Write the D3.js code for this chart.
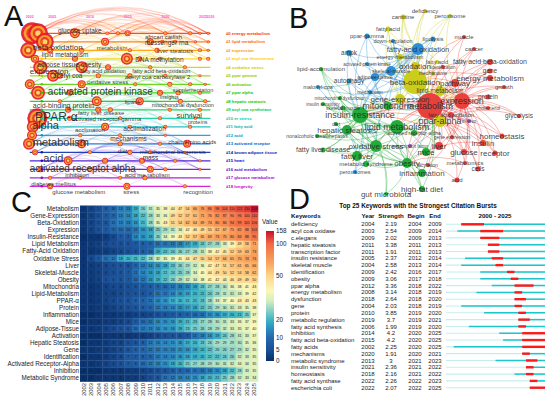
<!DOCTYPE html>
<html>
<head>
<meta charset="utf-8">
<script src="https://cdn.jsdelivr.net/npm/d3@7"></script>
<style>
body { margin: 0; background: #fff; }
svg { display: block; font-family: "Liberation Sans", Arial, sans-serif; }
</style>
</head>
<body>
<svg id="fig" width="550" height="400"></svg>
<script>
// ----------------------------
// Panel A : timeline view of keyword clusters
// ----------------------------
const clusterNames = ["#0 energy metabolism", "#1 lipid metabolism", "#2 expression", "#3 acyl coa thioesterase",
  "#4 oxidative stress", "#5 ppar gamma", "#6 activation", "#7 ppar alpha", "#8 hepatic steatosis",
  "#9 acyl coa synthetase", "#10 er stress", "#11 fatty acid", "#12 acid", "#13 activated receptor",
  "#14 brown adipose tissue", "#15 heart", "#16 acid metabolism", "#17 glucose metabolism", "#18 longevity"];
const clusterColors = ["#ff3300", "#ff6a00", "#ff9900", "#ffcc00", "#cccc00", "#99cc00", "#55cc00", "#22cc00",
  "#00cc00", "#00cc44", "#00cc99", "#00b4b4", "#0099cc", "#0066cc", "#0022aa", "#3300cc", "#6600cc", "#9900cc", "#cc00cc"];
const timelineTicks = [2002, 2005, 2010, 2015, 2020, 2025, 2026];

// [cluster, year, radius]
const timelineNodes = [
  [0,2002.3,11],[0,2003.1,10],[0,2008.0,5],[0,2012.3,1.8],[0,2013.7,2],[0,2015.0,3],[0,2020.0,2],[0,2023.3,2],[0,2024.6,1.5],[0,2025.7,1.5],
  [1,2004.0,9],[1,2012.0,4],[1,2018.0,3.5],[1,2019.6,2],[1,2021.3,2],[1,2024.0,1.5],[1,2025.7,1.5],
  [2,2001.8,8],[2,2004.7,3],[2,2008.9,2.5],[2,2015.3,2],[2,2018.9,2.5],[2,2024.6,2],[2,2025.7,1.5],
  [3,2002.7,4],[3,2008.0,3],[3,2014.9,6],[3,2016.6,2.5],[3,2019.3,2],[3,2024.6,2],[3,2025.7,2],
  [4,2003.4,7],[4,2008.9,6],[4,2012.4,3],[4,2018.0,2],[4,2022.6,2],
  [5,2005.1,6],[5,2006.0,3],[5,2011.1,2.5],[5,2015.3,2.5],[5,2020.0,2],[5,2024.6,1.5],
  [6,2002.0,5],[6,2008.9,4],[6,2016.0,2],[6,2020.6,2.5],[6,2023.3,2],[6,2025.3,1.5],
  [7,2003.1,7],[7,2007.3,3],[7,2019.3,3],[7,2021.7,2.5],[7,2024.6,2],
  [8,2006.0,2],[8,2010.9,5],[8,2016.6,4],[8,2022.0,2.5],[8,2025.3,2],
  [9,2007.1,3],[9,2011.1,3],[9,2012.7,2.5],[9,2020.6,2],[9,2024.6,2],
  [10,2003.0,10],[10,2007.3,2.5],[10,2014.0,2],[10,2019.3,2],[10,2024.0,1.5],
  [11,2002.4,6],[11,2012.0,4],[11,2015.3,2],[11,2020.0,2],[11,2023.3,2],
  [12,2002.3,5],[12,2008.7,2],[12,2014.0,2],[12,2020.0,1.5],
  [13,2001.9,6],[13,2008.9,4.5],[13,2014.0,2.5],[13,2019.3,2],[13,2022.9,4],
  [14,2002.7,3],[14,2010.0,2],[14,2015.3,2.5],[14,2018.0,2],[14,2022.6,1.5],
  [15,2007.1,4.5],[15,2012.0,3],[15,2016.9,3],[15,2021.3,2],[15,2024.6,1.5],
  [16,2003.4,3],[16,2010.0,2.5],[16,2013.3,2],[16,2018.0,3.5],[16,2020.0,2],[16,2024.6,1.5],
  [17,2004.7,2],[17,2008.7,2],[17,2014.0,2],[17,2017.3,2.5],
  [18,2004.7,3],[18,2014.9,3.5],[18,2022.6,2]
];

// [text, year, lane, font size]
const timelineLabels = [
  ["glucose uptake",2005.75,-0.27,6.5],["african catfish",2017.3,0.43,6],["beta oxidation",2002.4,1.6,8],
  ["messenger rna",2017.3,1.14,6.5],["metabolism",2010.9,1.73,6],["liver steatosis",2018.9,2.08,6],
  ["lipid metabolism",2003.6,2.55,6.5],["DNA methylation",2016.0,3.14,6.5],["adipose tissue obesity",2003.0,3.73,6.5],
  ["expression",2002.0,4.44,8],["fatty acid oxidation",2008.7,4.44,5.5],["fatty acid beta-oxidation",2015.6,4.44,5.5],
  ["acetyl coa",2005.1,5.02,6.5],["acetyl coa carboxylase 2",2014.6,5.14,6],["oxidative stress",2009.6,5.73,6],
  ["activated protein kinase",2004.4,6.9,10],["supplementation",2021.0,6.67,5.5],["insights",2019.3,7.5,5.5],
  ["acid-binding protein",2002.4,8.55,7],["lipase",2014.6,8.08,6],["mitochondrial dysfunction",2018.2,8.43,5.5],
  ["fatty liver disease",2008.4,9.38,6],["PPAR-α",2002.7,9.85,12],["survival",2021.5,9.6,7.5],
  ["activated receptor gamma",2007.6,10.1,6],["proteins",2023.0,10.44,5.5],["alpha",2002.3,10.79,11],
  ["acclimation",2008.0,11.37,6],["acclimatization",2014.4,11.26,6.5],["metabolism",2002.4,12.79,11],
  ["mechanisms",2012.7,12.44,6.5],["chain amino acids",2020.4,12.79,6],["diet",2013.7,13.85,6],
  ["mitochondrial biogenesis",2016.6,13.96,6],["mass",2017.0,14.67,6.5],["acid",2003.8,14.67,11],
  ["activated receptot alpha",2002.0,15.85,10],["inhibition",2006.7,16.67,6],["acid me tabolism",2014.6,16.67,6],
  ["diabetes mellitus",2002.2,17.73,6],["glucose metabolism",2005.0,18.67,6],["stress",2014.4,18.67,6],
  ["recognition",2022.4,18.67,6]
];

// ----------------------------
// Panel B : co-occurrence network
// [label, cluster, x, y, radius, font size, linked hubs]
// ----------------------------
const networkColors = { r: "#e8413c", g: "#22aa3a", b: "#2b8fd6", y: "#cccc1a", p: "#9a5bb5" };
const networkNodes = [
  ["deficiency","y",140,3,2,6,"BFM"],["carnitine","y",118,9,2.5,6,"BFME"],["peroxisome","y",165,8,2,6,"BFEM"],
  ["fatty acid","y",103,21,2.5,6,"BFMG"],["ppar-gamma","b",82,28,2.5,6,"FIBC"],["muscle","r",179,29,2,6,"EMB"],
  ["down-regulation","b",108,33,2,5.5,"FBM"],["lipolysis","b",148,31,2.5,6,"FBMI"],["fatty-acid oxidation","b",133,41,6,7.5,"BMICGS"],
  ["cancer","r",189,41,2,6,"EMP"],["ampk","b",64,45,3,6.5,"FICB"],["energy-metabolism","y",115,49,3,5.5,"BFMG"],
  ["fatty acid","y",152,54,2,5.5,"BMF"],["fatty acid beta-oxidation","r",205,54,3,7,"EMBP"],["activated protein kinase","b",82,56,2,4.5,"FB"],
  ["oxidation","y",130,58,4,8,"BMFE"],["identification","r",158,59,2,4.5,"EMB"],["gene","r",205,63,2.5,6.5,"EMP"],
  ["lipid-accumulation","g",36,61,2,6,"ISCL"],["skeletal-muscle","b",106,63,5,5.5,"FBIM"],["mechanisms","y",148,65,2,5,"BME"],
  ["adipose-tissue","b",90,69,4,5.5,"FIBC"],["energy metabolism","r",205,70,3,8,"EMPB"],["beta-oxidation","y",130,74,12,8,"MEGLIPC"],
  ["pathway","r",170,75,4,8,"EMBP"],["autophagy","b",64,73,2.5,6.5,"FICM"],["malonyl-coa","b",33,79,2,5.5,"FBI"],
  ["growth","r",219,79,2,6,"EMP"],["mechanism","b",85,84,2,5,"BGF"],["lipid-metabolism","y",155,83,5,6.5,"MBEP"],
  ["protein","r",203,89,2.5,6.5,"EMP"],["mitochondrial dysfunction","g",55,90,2,4.5,"ICS"],["gene-expression","y",115,91,5,8,"MBCI"],
  ["expression","r",177,93,8,9,"MPLBO"],["insulin sensitivity","g",38,96,2,4.5,"ICL"],["mitochondria","g",103,98,4,9,"MISL"],
  ["metabolism","r",145,98,13,9,"ILSOPHC"],["cholesterol","r",203,100,2,5,"EMP"],["skeletal muscle","g",58,100,2.5,5,"ICL"],
  ["insulin-resistance","g",75,107,8,9,"LSOHC"],["fatty acid oxidation","r",166,107,3,5.5,"EMP"],["glycolysis","r",234,108,2,6.5,"EMP"],
  ["ppar-alpha","y",155,113,6,9,"MELB"],["in-vivo","p",184,113,2,5,"EMP"],["diet","g",51,116,2,5,"IHO"],
  ["lipid metabolism","g",112,119,7,9,"MSOHP"],["hepatic steatosis","g",62,122,5,8,"ISOL"],["nonalcoholic steatohepatitis","g",32,128,2,5,"IHL"],
  ["activated receptor-alpha","g",129,125,3,5,"PLM"],["gene expression","r",167,129,2,5,"EMP"],["homeostasis","r",217,128,2.5,8,"EMI"],
  ["insulin","r",198,135,3,8,"EMIO"],["oxidative stress","g",91,138,6,8,"MOH"],["transcription factor","p",125,138,2,4.5,"PM"],
  ["liver","r",154,138,4,8,"EMPL"],["fatty liver disease","g",38,142,2.5,7,"IHSL"],["glucose","r",179,144,3,8,"EMI"],
  ["receptor","r",210,145,2.5,8,"EMP"],["fatty liver","g",72,148,5,8,"ISOH"],["mice","g",141,144,4,8,"MLO"],
  ["obesity","g",122,155,5,8,"MIL"],["metabolic syndrome","g",81,156,3,6,"IOSL"],["acylation","r",143,157,2,5,"ME"],
  ["metabolomics","r",180,155,2,6,"EMO"],["inflammation","g",137,165,4,8,"OSMI"],["peroxisomes","b",70,164,2,5.5,"ISH"],
  ["cells","r",193,161,2.5,6.5,"EMP"],["acid","r",172,172,2.5,6,"EMO"],["high-fat diet","g",137,181,3,8,"OISM"],
  ["gut microbiota","g",101,186,2,8,"OSI"]
];
const hubKeys = { M: "metabolism", B: "beta-oxidation", E: "expression", I: "insulin-resistance", L: "lipid metabolism",
  F: "fatty-acid oxidation", P: "ppar-alpha", O: "obesity", G: "gene-expression", C: "mitochondria",
  S: "oxidative stress", H: "hepatic steatosis" };

// ----------------------------
// Panel C : keyword frequency heatmap
// ----------------------------
const heatYears = d3.range(2002, 2026);
const heatKeywords = ["Metabolism", "Gene-Expression", "Beta-Oxidation", "Expression", "Insulin-Resistance",
  "Lipid Metabolism", "Fatty-Acid Oxidation", "Oxidative Stress", "Liver", "Skeletal-Muscle", "Obesity",
  "Mitochondria", "Lipid-Metabolism", "PPAR-α", "Protein", "Inflammation", "Mice", "Adipose-Tissue",
  "Activation", "Hepatic Steatosis", "Gene", "Identification", "Activated Receptor-Alpha", "Inhibition",
  "Metabolic Syndrome"];
const heatValues = [
  [1,3,5,8,10,13,13,19,26,31,35,38,44,47,54,66,76,86,98,104,110,122,130,158],
  [1,3,5,7,9,13,14,18,22,28,33,36,49,52,57,61,71,76,82,87,90,96,100,110],
  [1,3,5,6,11,13,13,16,21,28,35,43,51,54,62,64,69,74,80,84,94,99,101,106],
  [1,3,5,7,9,10,10,12,16,18,25,29,31,34,42,46,49,55,62,67,75,82,88,101],
  [0,1,1,2,4,7,7,14,16,18,26,34,39,43,52,57,65,69,73,75,80,84,88,95],
  [1,2,3,4,5,5,6,7,8,9,11,12,12,13,17,19,24,27,28,33,39,49,58,71],
  [1,1,2,2,3,4,5,6,8,10,19,22,24,26,27,28,31,38,42,45,52,59,63,73],
  [1,4,7,11,12,18,20,21,22,28,32,35,39,41,44,47,50,54,57,64,65,70,74,74],
  [1,2,3,4,5,6,6,9,12,14,16,18,23,26,29,32,36,42,47,51,57,61,65,66],
  [1,2,3,4,5,6,7,11,14,16,18,22,24,25,28,34,40,44,49,50,52,54,58,62],
  [1,2,3,5,6,6,7,10,12,16,19,22,26,29,32,34,38,41,42,44,46,49,49,50],
  [1,1,2,3,4,4,5,6,7,8,9,10,12,13,15,18,23,27,28,30,36,38,41,43],
  [1,1,2,3,3,4,5,6,6,8,11,12,14,16,18,20,21,24,28,31,31,33,39,42],
  [1,1,2,3,4,5,6,8,9,11,14,16,19,20,21,21,23,28,33,37,40,43,43,43],
  [1,1,2,2,3,4,5,6,8,9,12,13,14,15,17,18,22,25,29,30,31,33,35,38],
  [0,0,1,1,1,2,2,3,3,4,5,6,7,8,9,10,11,15,16,19,20,21,25,37],
  [0,1,1,2,2,3,4,7,10,11,14,15,16,19,21,23,27,28,30,31,33,36,37,39],
  [1,1,2,3,4,5,6,10,12,13,14,16,16,19,23,25,26,28,29,32,33,35,37,40],
  [0,0,0,1,1,1,1,2,2,3,4,5,6,6,7,11,13,16,19,24,28,31,33,37],
  [0,1,1,2,3,3,5,6,8,12,13,14,15,16,19,20,23,26,29,29,29,30,35,36],
  [1,1,2,2,3,4,6,8,9,11,12,13,13,15,16,18,20,22,26,26,27,29,32,35],
  [0,1,1,2,3,4,7,7,8,9,12,13,14,16,18,19,20,22,22,24,26,32,33,35],
  [1,1,2,3,4,5,7,8,10,12,13,15,18,20,25,27,28,29,30,31,32,34,34,35],
  [0,0,0,1,1,1,2,2,3,4,5,6,8,9,10,11,11,13,15,18,22,28,33,35],
  [0,0,1,1,1,1,2,2,3,5,6,11,12,13,14,15,18,20,21,25,28,32,33,34]
];
const colorTicks = [0, 5, 10, 20, 50, 100, 158];
const colorStopValues = [0, 5, 10, 15, 20, 27, 33, 40, 50, 70, 100, 158];
const colorStopColors = ["#08306b", "#1a4f96", "#2468ad", "#2a8cbe", "#3db4c4", "#8dd3c7", "#d5eebb",
  "#fbf7b8", "#fdd58a", "#f9a65e", "#f26b43", "#c8102e"];

// ----------------------------
// Panel D : citation bursts
// ----------------------------
const burstKeywords = ["deficiency", "acyl coa oxidase", "c.elegans", "hepatic steatosis", "transcription factor",
  "insulin resistance", "skeletal muscle", "identification", "obesity", "ppar alpha", "energy metabolism",
  "dysfunction", "gene", "protein", "metabolic regulation", "fatty acid synthesis", "inhibition",
  "fatty acid beta-oxidation", "fatty acids", "mechanisms", "metabolic syndrome", "insulin sensitivity",
  "homeostasis", "fatty acid synthase", "escherichia coli"];
const burstYear = [2004, 2003, 2009, 2011, 2011, 2005, 2004, 2009, 2009, 2012, 2008, 2018, 2004, 2010, 2019,
  2006, 2014, 2015, 2002, 2020, 2013, 2021, 2018, 2022, 2022];
const burstStrength = ["2.19", "2.54", "2.02", "3.38", "1.91", "2.37", "2.58", "2.42", "3.06", "3.36", "3.14",
  "2.64", "2.03", "3.85", "3.7", "1.99", "4.2", "4.2", "2.25", "1.91", "3", "2.36", "2.16", "2.26", "2.07"];
const burstBegin = [2004, 2009, 2009, 2011, 2011, 2012, 2013, 2016, 2017, 2018, 2018, 2018, 2018, 2019, 2019,
  2019, 2020, 2020, 2020, 2020, 2021, 2021, 2021, 2022, 2022];
const burstEnd = [2009, 2014, 2013, 2013, 2013, 2014, 2014, 2017, 2018, 2022, 2019, 2020, 2019, 2020, 2021,
  2020, 2025, 2025, 2025, 2021, 2023, 2022, 2022, 2023, 2025];

const svg = d3.select("#fig");
svg.append("rect").attr("width", 550).attr("height", 400).attr("fill", "#fff");

// ============ Panel A ============
const xA = d3.scaleLinear().domain([2000, 2025]).range([14.7, 202.95]);
const yA = d3.scaleLinear().domain([0, 18]).range([33.3, 186.3]);
const gA = svg.append("g");

// faint arcs inside each cluster
clusterNames.forEach((name, k) => {
  const ns = timelineNodes.filter(n => n[0] === k).sort((a, b) => a[1] - b[1]);
  for (let i = 0; i < ns.length; i++) {
    for (let j = i + 1; j < ns.length; j++) {
      const x1 = xA(ns[i][1]), x2 = xA(ns[j][1]), y = yA(k);
      gA.append("path")
        .attr("d", `M${x1},${y} Q${(x1 + x2) / 2},${y - (x2 - x1) * 0.3} ${x2},${y}`)
        .attr("fill", "none")
        .attr("stroke", clusterColors[k])
        .attr("stroke-opacity", 0.24)
        .attr("stroke-width", 0.6);
    }
  }
});

gA.selectAll("line.cl").data(clusterNames).enter().append("line")
  .attr("x1", xA(2002)).attr("x2", xA(2026))
  .attr("y1", (d, k) => yA(k)).attr("y2", (d, k) => yA(k))
  .attr("stroke", (d, k) => clusterColors[k])
  .attr("stroke-width", 1.2)
  .attr("stroke-opacity", 0.85);

gA.selectAll("text.tick").data(timelineTicks).enter().append("text")
  .attr("x", d => xA(d)).attr("y", 17.5)
  .attr("text-anchor", "middle")
  .attr("font-size", 3.6)
  .attr("font-weight", "bold")
  .attr("fill", "#ff55cc")
  .text(d => d);

// nodes with citation rings
const ringFrac = [1, 0.76, 0.52, 0.28];
const ringCol = ["#e4192b", "#f7a92c", "#e83a2a", "#ffdf6e"];
timelineNodes.slice().sort((a, b) => b[2] - a[2]).forEach(n => {
  const cx = xA(n[1]), cy = yA(n[0]);
  ringFrac.forEach((f, i) => {
    if (n[2] < 2.6 && i > 1) return;
    gA.append("circle").attr("cx", cx).attr("cy", cy).attr("r", n[2] * f)
      .attr("fill", ringCol[i]).attr("fill-opacity", 0.92);
  });
});
gA.selectAll("circle.dot").data(clusterNames).enter().append("circle")
  .attr("cx", xA(2003.6)).attr("cy", (d, k) => yA(k)).attr("r", 1.3)
  .attr("fill", (d, k) => clusterColors[k]);

gA.selectAll("text.lab").data(timelineLabels).enter().append("text")
  .attr("x", d => xA(d[1])).attr("y", d => yA(d[2]))
  .attr("dy", "0.35em")
  .attr("font-size", d => d[3])
  .attr("fill", "#222")
  .attr("fill-opacity", 0.9)
  .text(d => d[0]);

gA.selectAll("text.leg").data(clusterNames).enter().append("text")
  .attr("x", 226).attr("y", (d, k) => yA(k))
  .attr("dy", "0.35em")
  .attr("font-size", 4.2)
  .attr("font-weight", "bold")
  .attr("fill", (d, k) => clusterColors[k])
  .text(d => d);

// ============ Panel B ============
const xB = d3.scaleLinear().domain([0, 250]).range([285, 535]);
const yB = d3.scaleLinear().domain([0, 190]).range([8, 198]);
const gB = svg.append("g");
const byLabel = {};
networkNodes.forEach(n => { if (!byLabel[n[0]]) byLabel[n[0]] = n; });

networkNodes.forEach(n => {
  n[6].split("").forEach(h => {
    const t = byLabel[hubKeys[h]];
    if (!t || t === n) return;
    const x1 = xB(n[2]), y1 = yB(n[3]), x2 = xB(t[2]), y2 = yB(t[3]);
    const mx = (x1 + x2) / 2 - (y2 - y1) * 0.2, my = (y1 + y2) / 2 + (x2 - x1) * 0.2;
    gB.append("path")
      .attr("d", `M${x1},${y1} Q${mx},${my} ${x2},${y2}`)
      .attr("fill", "none")
      .attr("stroke", networkColors[n[1]])
      .attr("stroke-opacity", 0.45)
      .attr("stroke-width", 0.8);
  });
});

gB.selectAll("circle").data(networkNodes).enter().append("circle")
  .attr("cx", d => xB(d[2])).attr("cy", d => yB(d[3]))
  .attr("r", d => d[4])
  .attr("fill", d => networkColors[d[1]]);

gB.selectAll("text").data(networkNodes).enter().append("text")
  .attr("x", d => xB(d[2])).attr("y", d => yB(d[3]))
  .attr("dy", "0.35em")
  .attr("text-anchor", "middle")
  .attr("font-size", d => d[5])
  .attr("fill", "#222")
  .attr("fill-opacity", 0.85)
  .text(d => d[0]);

// ============ Panel C ============
const xC = d3.scaleBand().domain(heatYears).range([80, 258]);
const yC = d3.scaleBand().domain(heatKeywords).range([205.5, 381.5]);
const colorC = d3.scaleLinear().domain(colorStopValues).range(colorStopColors).clamp(true);
const barPos = d3.scaleLinear().domain(colorTicks).range([361, 350, 338, 320, 276, 244, 231]);
const gC = svg.append("g");

heatKeywords.forEach((kw, r) => {
  heatYears.forEach((yr, c) => {
    const v = heatValues[r][c];
    gC.append("rect")
      .attr("x", xC(yr)).attr("y", yC(kw))
      .attr("width", xC.bandwidth() + 0.3).attr("height", yC.bandwidth() + 0.3)
      .attr("fill", colorC(v));
    gC.append("text")
      .attr("x", xC(yr) + xC.bandwidth() / 2).attr("y", yC(kw) + yC.bandwidth() / 2)
      .attr("dy", "0.35em").attr("text-anchor", "middle")
      .attr("font-size", 3.6).attr("fill", "#1a1a1a")
      .text(v);
  });
});

gC.selectAll("text.row").data(heatKeywords).enter().append("text")
  .attr("x", 79).attr("y", d => yC(d) + yC.bandwidth() / 2)
  .attr("dy", "0.35em").attr("text-anchor", "end")
  .attr("font-size", 6.3).attr("fill", "#222")
  .text(d => d);

gC.selectAll("text.yr").data(heatYears).enter().append("text")
  .attr("transform", d => `translate(${xC(d) + xC.bandwidth() / 2 + 2},383) rotate(-90)`)
  .attr("text-anchor", "end")
  .attr("font-size", 5.8).attr("fill", "#333")
  .text(d => d);

const grad = svg.append("defs").append("linearGradient")
  .attr("id", "cbar").attr("x1", 0).attr("x2", 0).attr("y1", 1).attr("y2", 0);
colorStopValues.forEach(v => {
  grad.append("stop")
    .attr("offset", (361 - barPos(Math.min(v, 158))) / 130)
    .attr("stop-color", colorC(v));
});
gC.append("rect").attr("x", 266).attr("y", 231).attr("width", 8).attr("height", 130)
  .attr("fill", "url(#cbar)");
gC.append("text").attr("x", 262).attr("y", 224).attr("font-size", 6.3).attr("fill", "#222").text("Value");
gC.selectAll("text.ct").data(colorTicks).enter().append("text")
  .attr("x", 276).attr("y", d => barPos(d)).attr("dy", "0.35em")
  .attr("font-size", 6.3).attr("fill", "#222")
  .text(d => d);

// ============ Panel D ============
const yD = d3.scalePoint().domain(burstKeywords).range([224.3, 387.7]);
const xD = d3.scaleLinear().domain([2000, 2026]).range([446, 545]);
const gD = svg.append("g");

gD.append("text").attr("x", 418).attr("y", 207.5).attr("text-anchor", "middle")
  .attr("font-size", 6.4).attr("font-weight", "bold").attr("fill", "#111")
  .text("Top 25 Keywords with the Strongest Citation Bursts");
const headers = [["Keywords", 291, "start"], ["Year", 368, "middle"], ["Strength", 391, "middle"],
  ["Begin", 416, "middle"], ["End", 435, "middle"], ["2000 - 2025", 495, "middle"]];
gD.selectAll("text.hd").data(headers).enter().append("text")
  .attr("x", d => d[1]).attr("y", 217.8).attr("text-anchor", d => d[2])
  .attr("font-size", 6.2).attr("font-weight", "bold").attr("fill", "#111")
  .text(d => d[0]);

burstKeywords.forEach((kw, i) => {
  const y = yD(kw);
  const cells = [[kw, 291, "start"], [burstYear[i], 368, "middle"], [burstStrength[i], 391, "middle"],
    [burstBegin[i], 415, "middle"], [burstEnd[i], 435, "middle"]];
  cells.forEach(c => {
    gD.append("text").attr("x", c[1]).attr("y", y).attr("dy", "0.35em")
      .attr("text-anchor", c[2]).attr("font-size", 6).attr("fill", "#222").text(c[0]);
  });
  gD.append("line").attr("x1", xD(2000)).attr("x2", xD(2026)).attr("y1", y).attr("y2", y)
    .attr("stroke", "#c4eeee").attr("stroke-width", 1.1);
  gD.append("line").attr("x1", xD(burstYear[i])).attr("x2", xD(2026)).attr("y1", y).attr("y2", y)
    .attr("stroke", "#1cc6cc").attr("stroke-width", 1.5);
  gD.append("line").attr("x1", xD(burstBegin[i])).attr("x2", xD(burstEnd[i] + 1)).attr("y1", y).attr("y2", y)
    .attr("stroke", "#ff1a1a").attr("stroke-width", 2.4);
});

// ============ Panel letters ============
const letters = [["A", 4, 26], ["B", 289, 28], ["C", 11, 212], ["D", 289, 209]];
svg.selectAll("text.letter").data(letters).enter().append("text")
  .attr("x", d => d[1]).attr("y", d => d[2])
  .attr("font-size", 29).attr("fill", "#111")
  .text(d => d[0]);
</script>
</body>
</html>
